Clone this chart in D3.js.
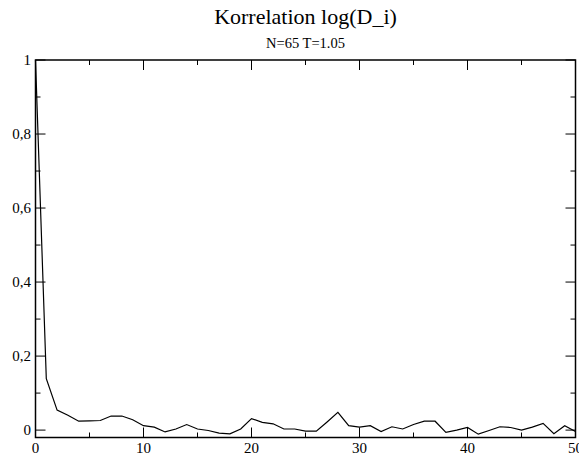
<!DOCTYPE html>
<html lang="en">
<head>
<meta charset="UTF-8">
<title>Korrelation log(D_i)</title>
<style>
    body { margin: 0; background: #fff; }
    svg { display: block; }
    svg text { font-family: "Liberation Serif", "Nimbus Roman", "Times New Roman", "DejaVu Serif", serif; }
    .tick-label { font-size: 15px; }
</style>
<script src="https://d3js.org/d3.v7.min.js"></script>
</head>
<body>
<svg id="chart" width="579" height="457"></svg>
<script>
    // correlation values for lag 0..50
    const lags = d3.range(0, 51);
    const corr = [1.0, 0.139, 0.054, 0.040, 0.024, 0.025, 0.026, 0.038, 0.038, 0.028,
                  0.012, 0.008, -0.005, 0.003, 0.015, 0.003, -0.001, -0.008, -0.010, 0.003,
                  0.031, 0.021, 0.017, 0.003, 0.003, -0.003, -0.003, 0.022, 0.048, 0.012,
                  0.008, 0.012, -0.004, 0.009, 0.003, 0.015, 0.024, 0.024, -0.006, 0.000,
                  0.007, -0.011, -0.001, 0.009, 0.007, 0.000, 0.008, 0.018, -0.010, 0.012,
                  -0.004];
    const xTicks = [0, 10, 20, 30, 40, 50];
    const yTicks = [0, 0.2, 0.4, 0.6, 0.8, 1];
    const xMinor = [5, 15, 25, 35, 45];
    const yMinor = [0.1, 0.3, 0.5, 0.7, 0.9];

    const margin = { top: 60, right: 3.5, bottom: 20, left: 35.5 };
    const W = 579, H = 457;
    const svg = d3.select("#chart");

    const x = d3.scaleLinear().domain([0, 50]).range([margin.left, W - margin.right]);
    const y = d3.scaleLinear().domain([-0.02, 1]).range([437.5, margin.top]);

    const x0 = x.range()[0], x1 = x.range()[1];
    const y0 = y.range()[0], y1 = y.range()[1];

    // ticks (inward, on all four sides)
    const ticks = svg.append("g").attr("stroke", "#000").attr("stroke-width", 1);
    function tickSet(vals, len) {
        vals.forEach(v => {
            ticks.append("line").attr("x1", x(v)).attr("x2", x(v)).attr("y1", y0).attr("y2", y0 - len);
            ticks.append("line").attr("x1", x(v)).attr("x2", x(v)).attr("y1", y1).attr("y2", y1 + len);
        });
    }
    function tickSetY(vals, len) {
        vals.forEach(v => {
            ticks.append("line").attr("y1", y(v)).attr("y2", y(v)).attr("x1", x0).attr("x2", x0 + len);
            ticks.append("line").attr("y1", y(v)).attr("y2", y(v)).attr("x1", x1).attr("x2", x1 - len);
        });
    }
    tickSet(xTicks, 10);
    tickSet(xMinor, 5);
    tickSetY(yTicks, 10);
    tickSetY(yMinor, 5);

    // frame
    svg.append("rect")
        .attr("x", x0).attr("y", y1)
        .attr("width", x1 - x0).attr("height", y0 - y1)
        .attr("fill", "none").attr("stroke", "#000").attr("stroke-width", 1.5);

    // tick labels
    svg.append("g").selectAll("text")
        .data(xTicks).enter().append("text")
        .attr("class", "tick-label")
        .attr("x", d => x(d)).attr("y", y0 + 15)
        .attr("text-anchor", "middle")
        .text(d => d);

    svg.append("g").selectAll("text")
        .data(yTicks).enter().append("text")
        .attr("class", "tick-label")
        .attr("x", x0 - 4.5).attr("y", d => y(d) + 5)
        .attr("text-anchor", "end")
        .text(d => String(d).replace(".", ","));

    // data line
    const line = d3.line().x((d, i) => x(lags[i])).y(d => y(d));
    svg.append("path")
        .datum(corr)
        .attr("d", line)
        .attr("fill", "none")
        .attr("stroke", "#000")
        .attr("stroke-width", 1.2);

    // titles
    svg.append("text")
        .attr("x", 305.5).attr("y", 24)
        .attr("text-anchor", "middle")
        .style("font-size", "22px")
        .text("Korrelation log(D_i)");
    svg.append("text")
        .attr("x", 305.5).attr("y", 48)
        .attr("text-anchor", "middle")
        .style("font-size", "14.5px")
        .text("N=65 T=1.05");
</script>
</body>
</html>
